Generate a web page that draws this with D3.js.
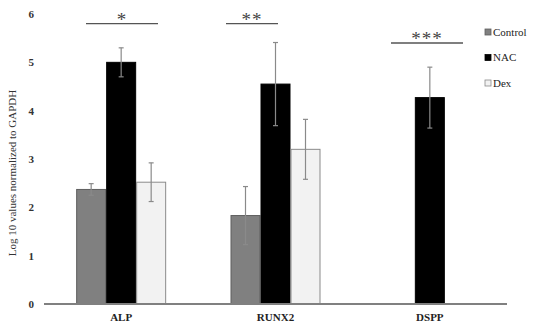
<!DOCTYPE html>
<html><head><meta charset="utf-8">
<script src="https://cdn.jsdelivr.net/npm/d3@7"></script>
<style>body{margin:0;background:#fff}svg{display:block}</style>
</head><body>
<script>
const categories = ["ALP","RUNX2","DSPP"];
const seriesNames = ["Control","NAC","Dex"];
const controlVals = [2.37, 1.83, null];
const nacVals = [5.0, 4.55, 4.27];
const dexVals = [2.52, 3.2, null];
const controlErr = [0.12, 0.6, null];
const nacErr = [0.3, 0.86, 0.63];
const dexErr = [0.4, 0.62, null];
const yTicks = [0,1,2,3,4,5,6];
const sigLabels = ["*","**","***"];
const sigLevels = [5.8, 5.8, 5.4];

const FONT="Liberation Serif";
const W=535,H=328;
const svg=d3.select("body").append("svg").attr("width",W).attr("height",H);
const x=d3.scaleBand().domain(categories).range([44,507]);
const y=d3.scaleLinear().domain([0,6]).range([304,14]);
const xs=d3.scaleBand().domain(seriesNames).range([0,90]);
const fills={Control:"#808080",NAC:"#000000",Dex:"#f2f2f2"};
const strokes={Control:"#5e5e5e",NAC:"#000000",Dex:"#8a8a8a"};
const vals={Control:controlVals,NAC:nacVals,Dex:dexVals};
const errs={Control:controlErr,NAC:nacErr,Dex:dexErr};

// y tick labels
svg.append("g").selectAll("text").data(yTicks).join("text")
 .attr("x",34).attr("y",d=>y(d)+4).attr("text-anchor","end").style("font-family",FONT)
 .attr("font-size",11).attr("font-weight","bold").attr("fill","#333").text(d=>d);

// y title
svg.append("text").attr("transform","translate(16,173) rotate(-90)").style("font-family",FONT)
 .attr("text-anchor","middle").attr("font-size",11).attr("fill","#333")
 .text("Log 10 values normalized to GAPDH");

const bars=[];
categories.forEach((c,i)=>seriesNames.forEach(s=>{
  if(vals[s][i]!=null) bars.push({c,s,v:vals[s][i],e:errs[s][i]});
}));
const gx=c=>x(c)+x.bandwidth()/2-45;

svg.append("g").selectAll("rect").data(bars).join("rect")
 .attr("x",d=>gx(d.c)+xs(d.s)+0.5).attr("width",xs.bandwidth()-1)
 .attr("y",d=>y(d.v)).attr("height",d=>y(0)-y(d.v))
 .attr("fill",d=>fills[d.s]).attr("stroke",d=>strokes[d.s]).attr("stroke-width",1);

// error bars
const eg=svg.append("g").attr("stroke","#8a8a8a").attr("stroke-width",1.2);
bars.forEach(d=>{
  const cx=gx(d.c)+xs(d.s)+xs.bandwidth()/2;
  eg.append("line").attr("x1",cx).attr("x2",cx).attr("y1",y(d.v+d.e)).attr("y2",y(d.v-d.e));
  [d.v+d.e,d.v-d.e].forEach(v=>eg.append("line").attr("x1",cx-2.5).attr("x2",cx+2.5).attr("y1",y(v)).attr("y2",y(v)));
});

// x axis line
svg.append("line").attr("x1",44).attr("x2",507).attr("y1",y(0)).attr("y2",y(0)).attr("stroke","#808080").attr("stroke-width",2);

// category labels
svg.append("g").selectAll("text").data(categories).join("text").style("font-family",FONT)
 .attr("x",d=>x(d)+x.bandwidth()/2).attr("y",321).attr("text-anchor","middle")
 .attr("font-size",11).attr("font-weight","bold").attr("fill","#222").text(d=>d);

// significance
const sigSpans=[[86,158],[226,278],[391,463]];
categories.forEach((c,i)=>{
  const [a,b]=sigSpans[i];
  svg.append("line").attr("x1",a).attr("x2",b).attr("y1",y(sigLevels[i])).attr("y2",y(sigLevels[i])).attr("stroke","#555").attr("stroke-width",1.3);
  svg.append("text").attr("x",(a+b)/2).attr("y",y(sigLevels[i])+2).attr("text-anchor","middle").style("font-family",FONT)
   .attr("font-size",19).attr("fill","#444").attr("letter-spacing",1).text(sigLabels[i]);
});

// legend
const lg=svg.append("g");
seriesNames.forEach((s,i)=>{
  const ly=32+i*25.5;
  lg.append("rect").attr("x",485).attr("y",ly-3).attr("width",6).attr("height",6)
   .attr("fill",fills[s]).attr("stroke",strokes[s]).attr("stroke-width",0.8);
  lg.append("text").attr("x",493).attr("y",ly+3.5).style("font-family",FONT).attr("font-size",11).attr("fill","#222").text(s);
});
</script>
</body></html>
